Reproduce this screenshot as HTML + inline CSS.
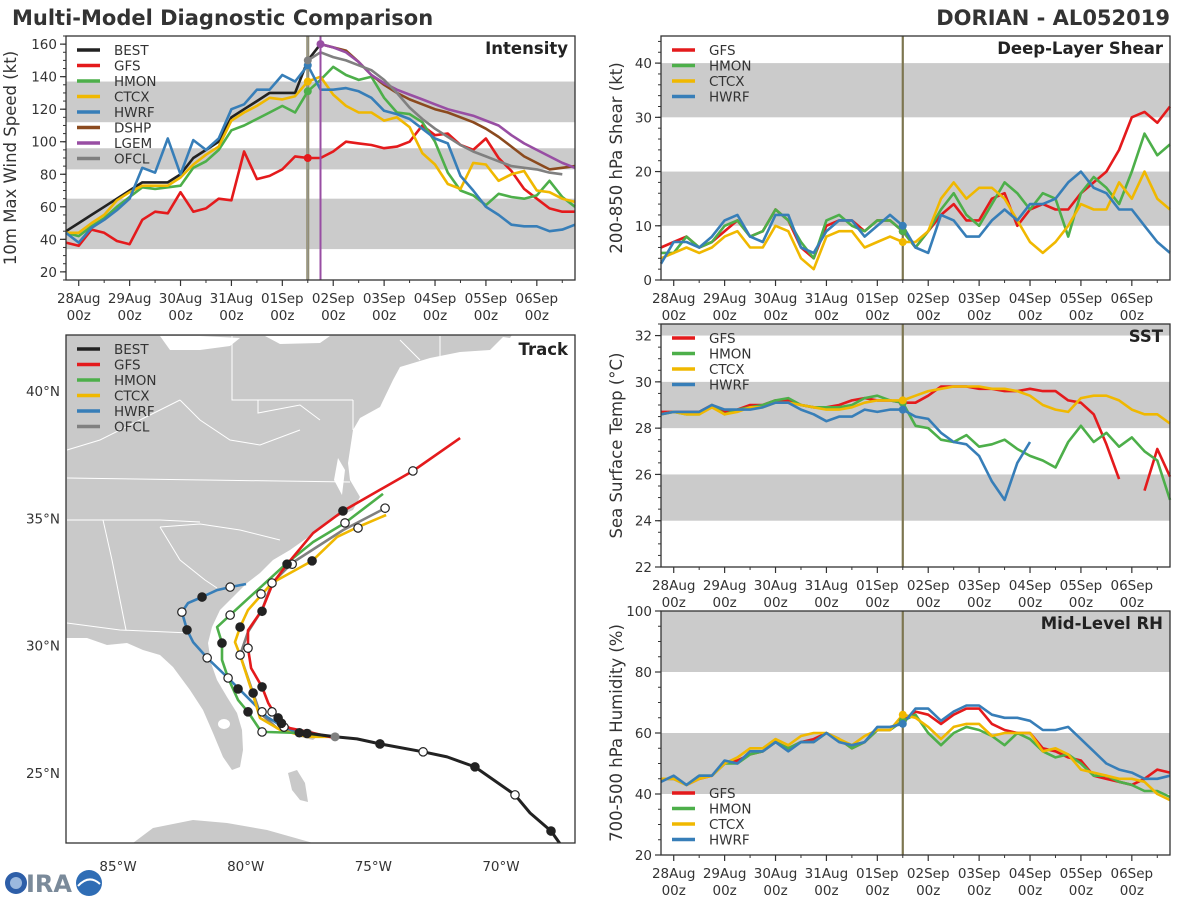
<!DOCTYPE html>
<html><head><meta charset="utf-8"><style>
html,body{margin:0;padding:0;background:#fff;}
svg{display:block;font-family:"DejaVu Sans","Liberation Sans",sans-serif;}
</style></head><body>
<svg id="chart" width="1200" height="900" viewBox="0 0 1200 900">
<text x="12" y="25" font-size="21" font-weight="bold" fill="#333">Multi-Model Diagnostic Comparison</text>
<text x="1170" y="25" font-size="21" font-weight="bold" fill="#333" text-anchor="end">DORIAN - AL052019</text>
<g>
<circle cx="16" cy="883" r="11" fill="#2d5ea8"/><circle cx="16" cy="883" r="6" fill="#9ab8de"/>
<text x="26" y="892" font-size="24" font-weight="bold" fill="#7a8a9a">IRA</text>
<circle cx="89" cy="883" r="13" fill="#2f6db5"/><path d="M78 886 Q89 874 100 884" stroke="#fff" stroke-width="2" fill="none"/>
</g>
</svg>
<script>
const NS='http://www.w3.org/2000/svg';
const svg=document.getElementById('chart');
function el(tag,attrs,parent){const e=document.createElementNS(NS,tag);for(const k in attrs)e.setAttribute(k,attrs[k]);(parent||svg).appendChild(e);return e;}

// ---------- shared time axis ----------
const dayLabels=['28Aug','29Aug','30Aug','31Aug','01Sep','02Sep','03Sep','04Sep','05Sep','06Sep'];
const times=[-0.25,0,0.25,0.5,0.75,1,1.25,1.5,1.75,2,2.25,2.5,2.75,3,3.25,3.5,3.75,4,4.25,4.5,4.75,5,5.25,5.5,5.75,6,6.25,6.5,6.75,7,7.25,7.5,7.75,8,8.25,8.5,8.75,9,9.25,9.5,9.75];
const N=null;

// ---------- intensity ----------
const intBEST=[45,50,55,60,65,70,75,75,75,80,90,95,100,115,120,125,130,130,130,150,160];
const intGFS=[38,36,46,44,39,37,52,57,56,69,57,59,65,64,94,77,79,83,91,90,90,94,100,99,98,96,97,100,110,104,105,98,95,102,90,82,71,65,59,57,57];
const intHMON=[44,42,48,53,60,66,72,71,72,73,84,88,95,107,110,114,118,122,118,131,138,146,141,138,140,127,118,117,112,100,81,70,67,61,68,66,65,67,76,66,60];
const intCTCX=[44,44,50,55,64,69,73,73,73,78,86,92,97,113,118,122,127,126,128,137,140,129,122,118,118,113,115,109,93,86,74,71,87,86,76,80,82,70,69,65,63];
const intHWRF=[44,38,47,52,58,65,84,81,102,80,101,95,102,120,123,132,132,141,137,147,132,132,133,131,127,119,117,114,108,102,99,79,70,60,55,49,48,48,45,46,49];
const intDSHP=[N,N,N,N,N,N,N,N,N,N,N,N,N,N,N,N,N,N,N,N,160,158,156,149,141,135,130,126,123,120,118,115,112,108,103,97,91,87,83,84,85];
const intLGEM=[N,N,N,N,N,N,N,N,N,N,N,N,N,N,N,N,N,N,N,N,160,158,155,149,141,136,132,129,126,123,120,118,116,113,110,104,99,95,91,87,84];
const intOFCL=[N,N,N,N,N,N,N,N,N,N,N,N,N,N,N,N,N,N,N,150,155,152,150,147,144,138,130,121,114,108,103,98,94,91,88,85,84,83,81,80];
const intTicks=[20,40,60,80,100,120,140,160];
const intBands=[[34,65],[83,96],[112,137]];

// ---------- shear ----------
const shrGFS=[6,7,8,6,7,9,11,8,9,13,11,6,4,10,11,11,9,11,11,9,6,9,12,14,11,11,15,16,10,13,14,13,13,16,18,20,24,30,31,29,32];
const shrHMON=[5,5,8,6,7,10,11,8,9,13,11,7,4,11,12,10,9,11,11,9,6,9,13,16,12,10,14,18,16,13,16,15,8,16,19,17,14,20,27,23,25];
const shrCTCX=[4,5,6,5,6,8,9,6,6,10,9,4,2,8,9,9,6,7,8,7,7,9,15,18,15,17,17,15,11,7,5,7,10,14,13,13,18,15,20,15,13];
const shrHWRF=[3,7,7,6,8,11,12,8,7,12,12,6,5,9,11,11,8,10,12,10,6,5,12,11,8,8,11,13,11,14,14,15,18,20,17,16,13,13,10,7,5];
const shrTicks=[0,10,20,30,40];
const shrBands=[[10,20],[30,40]];

// ---------- SST ----------
const sstGFS=[28.7,28.7,28.7,28.7,29.0,28.7,28.8,29.0,29.0,29.2,29.2,29.0,28.9,28.9,29.0,29.2,29.3,29.2,29.2,29.1,29.1,29.4,29.8,29.8,29.8,29.7,29.7,29.6,29.6,29.7,29.6,29.6,29.2,29.1,28.6,27.3,25.8,N,25.3,27.1,25.9];
const sstHMON=[28.6,28.7,28.6,28.6,29.0,28.6,28.8,28.9,29.0,29.2,29.3,29.0,28.9,28.9,28.9,29.0,29.3,29.4,29.2,29.1,28.1,28.0,27.5,27.4,27.7,27.2,27.3,27.5,27.1,26.8,26.6,26.3,27.4,28.1,27.4,27.8,27.2,27.6,27.0,26.6,24.9];
const sstCTCX=[28.6,28.7,28.6,28.6,28.9,28.6,28.7,28.9,28.9,29.1,29.1,29.0,28.9,28.8,28.8,28.9,29.1,29.2,29.2,29.2,29.4,29.6,29.7,29.8,29.8,29.8,29.7,29.7,29.6,29.4,29.0,28.8,28.7,29.3,29.4,29.4,29.2,28.8,28.6,28.6,28.2];
const sstHWRF=[28.6,28.7,28.7,28.7,29.0,28.8,28.8,28.8,28.9,29.1,29.1,28.8,28.6,28.3,28.5,28.5,28.8,28.7,28.8,28.8,28.5,28.4,27.8,27.4,27.3,26.8,25.7,24.9,26.5,27.4,N,N,N,N,N,N,N,N,N,N,N];
const sstTicks=[22,24,26,28,30,32];
const sstBands=[[24,26],[28,30],[32,32.5]];

// ---------- RH ----------
const rhGFS=[45,45,43,45,46,50,51,53,54,57,55,57,58,60,58,55,57,61,61,64,67,66,63,66,68,68,63,61,60,60,55,54,52,51,46,45,44,43,45,48,47];
const rhHMON=[45,45,43,46,46,50,50,53,54,57,55,57,57,60,58,55,57,61,61,64,66,60,56,60,62,61,59,56,60,58,54,52,53,50,46,46,44,43,41,41,39];
const rhCTCX=[45,45,43,45,46,50,52,55,55,58,56,59,60,60,58,56,59,61,61,66,65,62,58,62,63,63,59,60,60,60,54,55,53,48,47,46,45,45,44,40,38];
const rhHWRF=[44,46,43,46,46,51,50,54,54,57,54,57,57,60,57,56,57,62,62,63,68,68,64,67,69,69,66,65,65,64,61,61,62,58,54,50,48,47,45,45,46];
const rhTicks=[20,40,60,80,100];
const rhBands=[[40,60],[80,100]];

const C={BEST:'#222222',GFS:'#e41a1c',HMON:'#4daf4a',CTCX:'#f0b800',HWRF:'#377eb8',DSHP:'#8b4a1e',LGEM:'#984ea3',OFCL:'#808080'};

function panel(p){
  const g=el('g',{});
  
  
  const xs=t=>p.x0+(t+0.25)/10*(p.x1-p.x0);
  const ys=v=>p.y1-(v-p.ymin)/(p.ymax-p.ymin)*(p.y1-p.y0);
  p.bands.forEach(b=>{
    const r=el('rect',{x:p.x0,y:ys(b[1]),width:p.x1-p.x0,height:ys(b[0])-ys(b[1]),fill:'#cbcbcb'},g);
    
    
  });
  p.series.forEach(s=>{
    let segs=[],cur=[];
    s.data.forEach((v,i)=>{ if(v===null){if(cur.length)segs.push(cur);cur=[];} else cur.push(xs(times[i]).toFixed(1)+','+ys(v).toFixed(1)); });
    if(cur.length)segs.push(cur);
    segs.forEach(sg=>{
      const l=el('polyline',{points:sg.join(' '),fill:'none',stroke:C[s.k],'stroke-width':2.6,'stroke-linejoin':'round'},g);
      
      
    });
  });
  p.vlines.forEach(v=>{
    const l=el('line',{x1:xs(v.t),x2:xs(v.t),y1:p.y0,y2:p.y1,stroke:v.c,'stroke-width':v.w},g);
    
    
    if(v.inner){const l2=el('line',{x1:xs(v.t),x2:xs(v.t),y1:p.y0,y2:p.y1,stroke:v.inner,'stroke-width':1},g);
      
      }
  });
  p.series.forEach(s=>{
    if(s.m===undefined)return;
    const v=s.data[s.m]; if(v===null)return;
    const c=el('circle',{cx:xs(times[s.m]),cy:ys(v),r:4,fill:C[s.k]},g);
    
    
  });
  const f=el('rect',{x:p.x0,y:p.y0,width:p.x1-p.x0,height:p.y1-p.y0,fill:'none',stroke:'#333','stroke-width':1.3},g);
  
  
  p.yticks.forEach(v=>{
    el('line',{x1:p.x0-6,x2:p.x0,y1:ys(v),y2:ys(v),stroke:'#333','stroke-width':1.2},g);
    const t=el('text',{x:p.x0-9,y:ys(v)+5,'font-size':13.5,fill:'#333','text-anchor':'end'},g);
    t.textContent=v;
    
    
  });
  for(let v=p.ymin;v<=p.ymax+1e-9;v+=p.minor){
    el('line',{x1:p.x0-3,x2:p.x0,y1:ys(v),y2:ys(v),stroke:'#333','stroke-width':1},g);
  }
  for(let d=0;d<10;d++){
    el('line',{x1:xs(d),x2:xs(d),y1:p.y1,y2:p.y1+6,stroke:'#333','stroke-width':1.2},g);
    el('line',{x1:xs(d+0.5),x2:xs(d+0.5),y1:p.y1,y2:p.y1+3,stroke:'#333','stroke-width':1},g);
    const t1=el('text',{x:xs(d),y:p.y1+23,'font-size':13.5,fill:'#333','text-anchor':'middle'},g);
    t1.textContent=dayLabels[d];
    
    
    const t2=el('text',{x:xs(d),y:p.y1+40,'font-size':13.5,fill:'#333','text-anchor':'middle'},g);
    t2.textContent='00z';
    
    
  }
  const yl=el('text',{x:0,y:0,'font-size':16.5,fill:'#333','text-anchor':'middle',transform:`translate(${p.ylx},${(p.y0+p.y1)/2}) rotate(-90)`},g);
  yl.textContent=p.ylabel;
  
  
  const tt=el('text',{x:p.x1-7,y:p.y0+18,'font-size':16.5,'font-weight':'bold',fill:'#222','text-anchor':'end'},g);
  tt.textContent=p.title;
  
  
  legend(g,p.x0+11,p.legY,p.series.map(s=>s.k));
}
function legend(g,x,y,keys){
  keys.forEach((k,i)=>{
    const yy=y+i*15.5;
    const l=el('line',{x1:x,x2:x+23,y1:yy,y2:yy,stroke:C[k],'stroke-width':3.5},g);
    
    
    const t=el('text',{x:x+37,y:yy+5,'font-size':13.5,fill:'#333'},g);
    t.textContent=k;
    
    
  });
}

panel({name:'intensity-panel',x0:66,x1:575,y0:36,y1:280,ymin:15,ymax:165,minor:5,bands:intBands,yticks:intTicks,ylx:16,
  ylabel:'10m Max Wind Speed (kt)',title:'Intensity',legY:50,
  series:[{k:'BEST',data:intBEST},{k:'GFS',data:intGFS,m:19},{k:'HMON',data:intHMON,m:19},{k:'CTCX',data:intCTCX,m:19},{k:'HWRF',data:intHWRF,m:19},{k:'DSHP',data:intDSHP},{k:'LGEM',data:intLGEM,m:20},{k:'OFCL',data:intOFCL,m:19}],
  vlines:[{t:4.5,c:'#8f8a68',w:3,inner:'#9a9a9a'},{t:4.75,c:'#984ea3',w:2}]});
panel({name:'shear-panel',x0:661,x1:1170,y0:36,y1:280,ymin:0,ymax:45,minor:2,bands:shrBands,yticks:shrTicks,ylx:622,
  ylabel:'200-850 hPa Shear (kt)',title:'Deep-Layer Shear',legY:50,
  series:[{k:'GFS',data:shrGFS,m:19},{k:'HMON',data:shrHMON,m:19},{k:'CTCX',data:shrCTCX,m:19},{k:'HWRF',data:shrHWRF,m:19}],
  vlines:[{t:4.5,c:'#7d7650',w:2.2}]});
panel({name:'sst-panel',x0:661,x1:1170,y0:324,y1:567,ymin:22,ymax:32.5,minor:0.5,bands:sstBands,yticks:sstTicks,ylx:622,
  ylabel:'Sea Surface Temp (°C)',title:'SST',legY:338,
  series:[{k:'GFS',data:sstGFS,m:19},{k:'HMON',data:sstHMON,m:19},{k:'CTCX',data:sstCTCX,m:19},{k:'HWRF',data:sstHWRF,m:19}],
  vlines:[{t:4.5,c:'#7d7650',w:2.2}]});
panel({name:'rh-panel',x0:661,x1:1170,y0:611,y1:855,ymin:20,ymax:100,minor:5,bands:rhBands,yticks:rhTicks,ylx:622,
  ylabel:'700-500 hPa Humidity (%)',title:'Mid-Level RH',legY:793,
  series:[{k:'GFS',data:rhGFS,m:19},{k:'HMON',data:rhHMON,m:19},{k:'CTCX',data:rhCTCX,m:19},{k:'HWRF',data:rhHWRF,m:19}],
  vlines:[{t:4.5,c:'#7d7650',w:2.2}]});

// ---------- track map ----------
const trkBEST=[[-67.7,22.24],[-68.04,22.72],[-68.86,23.43],[-69.45,24.14],[-71.02,25.24],[-72.11,25.63],[-73.05,25.83],[-74.74,26.14],[-75.64,26.34],[-76.5,26.42],[-77.5,26.55],[-77.9,26.58]];
const trkGFS=[[-76.38,26.34],[-77.52,26.61],[-78.26,26.76],[-78.65,26.96],[-79.12,27.75],[-79.36,28.38],[-79.79,29.12],[-79.91,29.9],[-79.91,30.6],[-79.36,31.4],[-78.93,32.46],[-78.38,33.2],[-77.36,34.42],[-76.19,35.29],[-73.45,36.86],[-71.6,38.15]];
const trkHMON=[[-76.5,26.42],[-77.87,26.57],[-79.16,26.61],[-79.44,26.69],[-79.91,27.4],[-80.3,27.87],[-80.69,28.73],[-80.93,29.44],[-80.93,30.1],[-81.12,30.73],[-80.61,31.2],[-78.38,33.25],[-77.36,34.07],[-76.11,34.82],[-74.62,35.96]];
const trkCTCX=[[-76.5,26.42],[-77.6,26.42],[-78.65,26.69],[-79.44,27.16],[-79.71,28.06],[-80.22,29.63],[-80.42,30.14],[-80.22,30.73],[-79.91,31.4],[-78.97,32.46],[-77.4,33.33],[-76.42,34.27],[-75.6,34.66],[-74.5,35.13]];
const trkHWRF=[[-76.5,26.42],[-77.87,26.57],[-78.54,26.81],[-79.16,27.2],[-80.69,28.73],[-81.51,29.52],[-82.06,30.14],[-82.3,30.62],[-82.5,31.32],[-82.26,31.67],[-81.71,31.91],[-81.12,32.18],[-80.61,32.3],[-79.99,32.42]];
const trkOFCL=[[-76.5,26.42],[-77.87,26.55],[-78.77,26.76],[-79.44,27.36],[-79.71,28.14],[-80.22,29.63],[-79.91,30.54],[-79.36,31.4],[-78.97,32.46],[-78.18,33.25],[-76.19,34.54],[-74.54,35.4]];
const mkBEST=[[-68.04,22.72,1],[-69.45,24.14,0],[-71.02,25.24,1],[-73.05,25.83,0],[-74.74,26.14,1],[-77.6,26.55,1],[-77.9,26.58,1]];
const mkGFS=[[-76.19,35.29,1],[-73.45,36.86,0],[-78.38,33.2,1],[-79.36,28.38,1],[-78.73,27.16,1]];
const mkHMON=[[-76.11,34.82,0],[-80.61,31.2,0],[-80.93,30.1,1],[-79.91,27.4,1],[-79.36,26.61,0]];
const mkCTCX=[[-77.4,33.33,1],[-79.4,32.03,0],[-80.22,30.73,1],[-80.22,29.63,0]];
const mkHWRF=[[-80.61,32.3,0],[-81.71,31.91,1],[-82.5,31.32,0],[-82.3,30.62,1],[-81.51,29.52,0],[-80.69,28.73,0],[-80.3,28.3,1]];
const mkOFCL=[[-74.54,35.4,0],[-75.6,34.62,0],[-78.18,33.2,0],[-78.97,32.46,0],[-79.36,31.35,1],[-79.91,29.9,0],[-79.71,28.14,1],[-79.36,27.4,0],[-78.97,27.4,0],[-78.5,26.8,0],[-78.6,26.95,1]];
const lonTicks=[-85,-80,-75,-70];
const latTicks=[25,30,35,40];

(function(){
  const X0=66,X1=575,Y0=335,Y1=843,LON0=-87.04,LON1=-67.10,LAT0=22.25,LAT1=42.2;
  const px=lon=>X0+(lon-LON0)/(LON1-LON0)*(X1-X0);
  const py=lat=>Y1-(lat-LAT0)/(LAT1-LAT0)*(Y1-Y0);
  const g=el('g',{});
  
  
  const defs=el('defs',{},g);
  const cp=el('clipPath',{id:'mapclip'},defs);
  el('rect',{x:X0,y:Y0,width:X1-X0,height:Y1-Y0},cp);
  const m=el('g',{'clip-path':'url(#mapclip)'},g);
  const land=el('path',{fill:'#c9c9c9',stroke:'none',d:'M60 330 L515 330 L510 338 L503 337 L490 350 L460 352 L430 358 L400 367 L393 380 L380 407 L360 418 L353 430 L348 463 L350 480 L360 497 L353 510 L337 517 L320 527 L307 538 L290 550 L273 560 L260 573 L247 583 L233 597 L220 610 L212 627 L208 643 L211 663 L217 680 L227 697 L237 713 L242 730 L243 750 L240 767 L232 770 L223 757 L213 733 L203 710 L190 690 L173 667 L160 655 L143 650 L127 643 L107 645 L87 638 L60 638 Z'},m);
  
  
  const water=el('path',{fill:'#fff',d:'M160 336 L200 336 L240 338 L230 346 L200 350 L170 350 Z M265 336 L330 336 L320 343 L280 344 Z M218 724 A6 5 0 1 0 230 724 A6 5 0 1 0 218 724 Z M338 458 L345 470 L342 495 L334 480 Z'},m);
  
  
  const isl=el('path',{fill:'#c9c9c9',d:'M120 850 L133 843 L153 828 L193 820 L227 823 L267 830 L313 843 L320 850 Z M288 773 L297 770 L305 783 L308 802 L300 800 L292 790 Z M294 731 L310 729 L318 736 L313 740 L300 737 Z'},m);
  
  
  const st=el('path',{fill:'none',stroke:'#fff','stroke-width':1,d:'M67 478 L205 480 L350 482 M67 520 L160 520 L200 522 M160 527 L200 524 L240 530 L280 540 M160 527 L180 560 L205 580 L217 588 M103 520 L112 560 L120 600 L126 630 M67 623 L120 630 L190 633 M232 336 L232 400 L353 400 M258 400 L258 413 L300 405 L320 420 M353 400 L353 430 M180 400 L200 420 L230 440 L260 445 L300 430 M67 450 L100 440 L140 420 L180 400 M440 336 L440 360 M400 340 L420 360'},m);
  
  
  const tracks=[['OFCL',trkOFCL],['HWRF',trkHWRF],['CTCX',trkCTCX],['HMON',trkHMON],['GFS',trkGFS],['BEST',trkBEST]];
  tracks.forEach(([k,arr])=>{
    const l=el('polyline',{points:arr.map(p=>px(p[0]).toFixed(1)+','+py(p[1]).toFixed(1)).join(' '),fill:'none',stroke:C[k],'stroke-width':k==='BEST'?3:2.6,'stroke-linejoin':'round'},m);
    
    
  });
  [mkOFCL,mkHWRF,mkCTCX,mkHMON,mkGFS,mkBEST].forEach(arr=>{
    arr.forEach(p=>{
      const c=el('circle',{cx:px(p[0]),cy:py(p[1]),r:4.2,fill:p[2]?'#222':'#fff',stroke:'#222','stroke-width':1.2},m);
      
      
    });
  });
  const sm=el('circle',{cx:px(-76.5),cy:py(26.42),r:4.5,fill:'#808080'},m);
  
  
  const f=el('rect',{x:X0,y:Y0,width:X1-X0,height:Y1-Y0,fill:'none',stroke:'#333','stroke-width':1.3},g);
  
  
  lonTicks.forEach(v=>{
    const t=el('text',{x:px(v),y:Y1+28,'font-size':13.5,fill:'#333','text-anchor':'middle'},g);
    t.textContent=Math.abs(v)+'°W';
    
    
  });
  latTicks.forEach(v=>{
    const t=el('text',{x:X0-6,y:py(v)+5,'font-size':13.5,fill:'#333','text-anchor':'end'},g);
    t.textContent=v+'°N';
    
    
  });
  const tt=el('text',{x:X1-7,y:Y0+20,'font-size':16.5,'font-weight':'bold',fill:'#222','text-anchor':'end'},g);
  tt.textContent='Track';
  
  
  legend(g,77,349,['BEST','GFS','HMON','CTCX','HWRF','OFCL']);
})();
</script>
</body></html>
